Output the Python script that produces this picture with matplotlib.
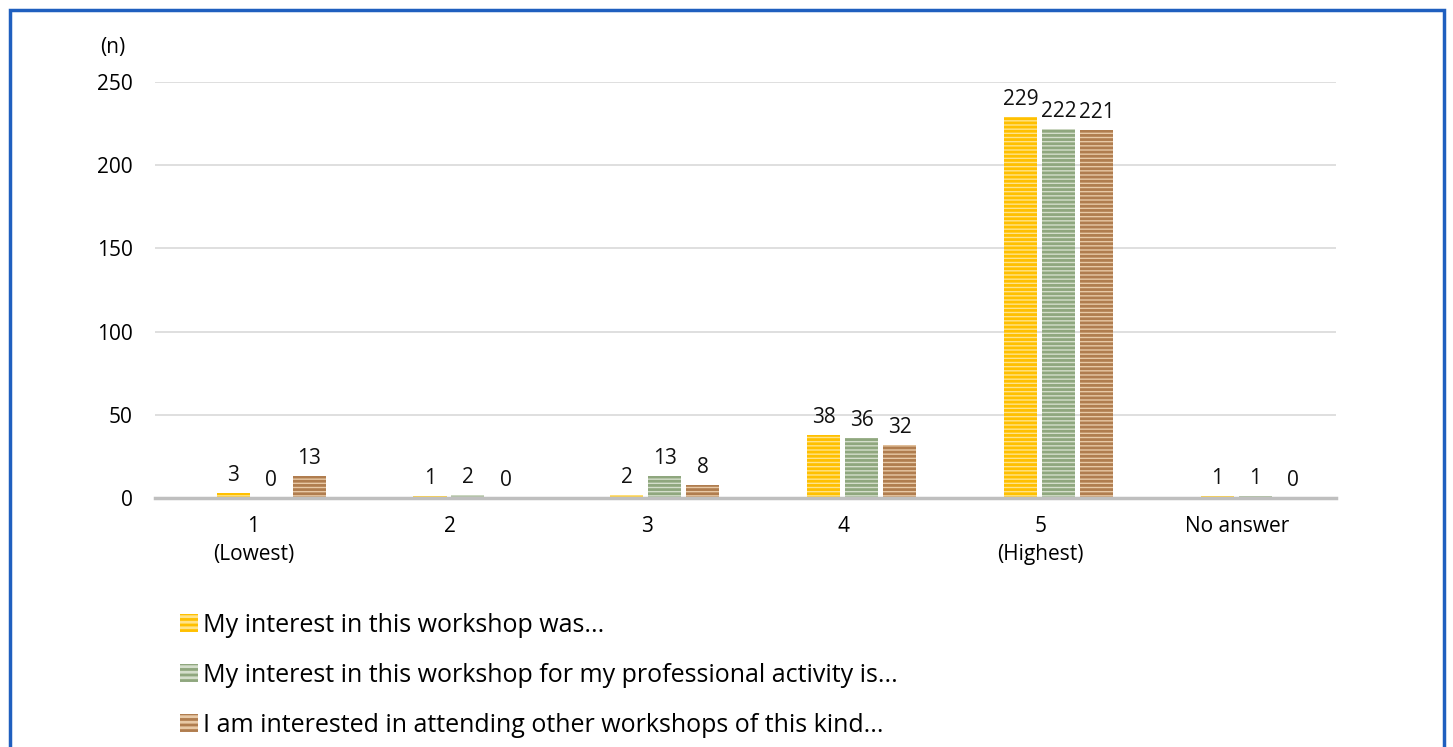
import matplotlib
matplotlib.use("Agg")
import matplotlib.pyplot as plt
import numpy as np
from matplotlib.patches import Rectangle, Patch

plt.rcParams['font.family'] = ['Open Sans', 'DejaVu Sans']
plt.rcParams['hatch.linewidth'] = 2.0

categories = ["1\n(Lowest)", "2", "3", "4", "5\n(Highest)", "No answer"]
series_names = [
    "My interest in this workshop was...",
    "My interest in this workshop for my professional activity is...",
    "I am interested in attending other workshops of this kind...",
]
interest_was = [3, 1, 2, 38, 229, 1]
interest_professional = [0, 2, 13, 36, 222, 1]
interest_other = [13, 0, 8, 32, 221, 0]
series_values = [interest_was, interest_professional, interest_other]
y_ticks = [0, 50, 100, 150, 200, 250]

main_colors = ["#FFC000", "#8FA77E", "#B07D4F"]
light_colors = ["#FFE38A", "#D4DECB", "#E8C9A6"]

W, H = 1453, 747
fig = plt.figure(figsize=(W / 100, H / 100), dpi=100)
ax = fig.add_axes([155 / W, 1 - 498 / H, (1336 - 155) / W, (498 - 82) / H])

x = np.arange(len(categories))
bw = 0.168
step = 0.193
shift = 0.09
handles = []
for i, (vals, name) in enumerate(zip(series_values, series_names)):
    pos = x + (i - 1) * step + shift
    ax.bar(pos, vals, width=bw, color=light_colors[i], edgecolor=main_colors[i],
           hatch='----', linewidth=0, zorder=3)
    for p, v in zip(pos, vals):
        ax.annotate(str(v), (p, v), xytext=(0, 5), textcoords='offset points',
                    ha='center', va='bottom', fontsize=15, color='#111111')
    handles.append(Patch(facecolor=light_colors[i], edgecolor=main_colors[i], hatch='---',
                         linewidth=0, label=name))

ax.set_xlim(-0.5, len(categories) - 0.5)
ax.set_ylim(0, 250)
ax.set_yticks(y_ticks)
ax.set_xticks(x)
ax.set_xticklabels(categories, fontsize=15, linespacing=1.45)
ax.tick_params(axis='y', labelsize=15, length=0, pad=16)
ax.tick_params(axis='x', length=0, pad=13)
ax.grid(axis='y', color='#D9D9D9', linewidth=1.2, zorder=0)
for s in ['top', 'right', 'left']:
    ax.spines[s].set_visible(False)
ax.spines['bottom'].set_color('#BFBFBF')
ax.spines['bottom'].set_linewidth(2.5)
ax.spines['bottom'].set_zorder(4)

fig.text(113 / W, 1 - 48 / H, "(n)", ha='center', va='center', fontsize=15)

leg = fig.legend(handles=handles, loc='upper left', bbox_to_anchor=(157 / W, 1 - 590 / H),
                 frameon=False, fontsize=18, labelspacing=1.0, handlelength=0.75,
                 handleheight=0.75, handletextpad=0.2)

fig.patches.append(Rectangle((10 / W, -0.05), (1444 - 10) / W, 1 - 10 / H + 0.05,
                             transform=fig.transFigure, fill=False, edgecolor='#1F5FBF',
                             linewidth=2.5))

fig.savefig("out.png", dpi=100)
